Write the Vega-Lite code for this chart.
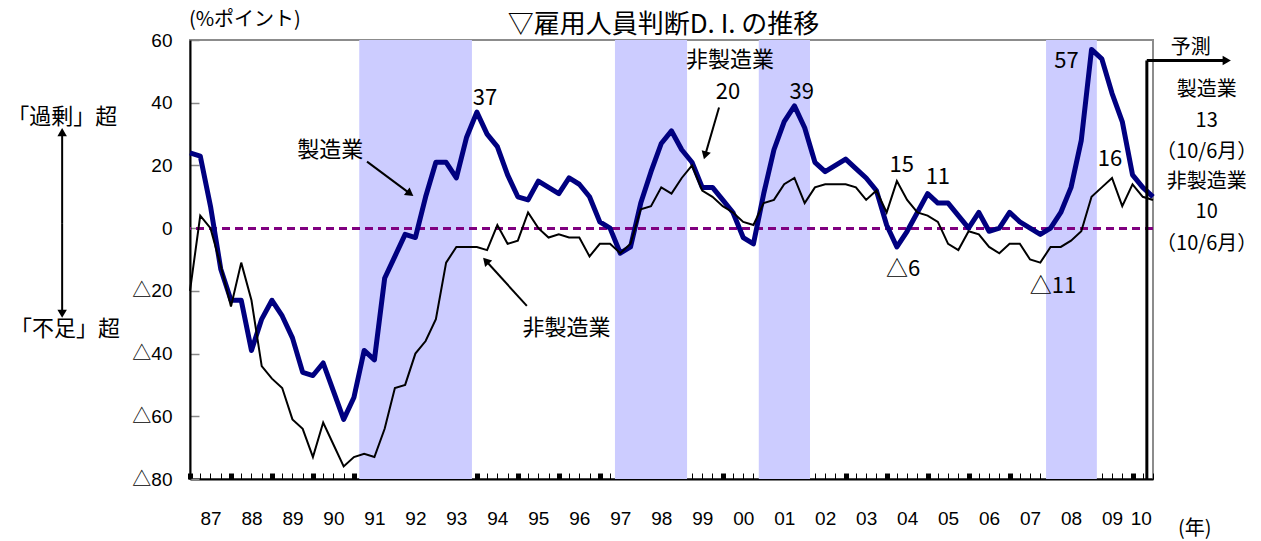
{
  "$schema": "https://vega.github.io/schema/vega-lite/v6.json",
  "width": 963,
  "height": 439,
  "autosize": {"type": "none"},
  "padding": {"left": 190, "top": 40, "right": 108, "bottom": 62},
  "background": "white",
  "config": {
    "view": {"stroke": "#8c8c8c", "strokeWidth": 2},
    "font": "Noto Sans CJK JP",
    "axis": {"labelFont": "Liberation Sans, Noto Sans CJK JP", "labelFontSize": 19, "labelColor": "black", "grid": false, "title": null}
  },
  "title": {"text": "▽雇用人員判断D. I. の推移", "font": "Noto Sans CJK JP", "fontSize": 26, "fontWeight": "normal", "color": "black", "frame": "group", "offset": 4, "dx": -8, "dy": 32},
  "datasets": {
    "di": [
      {"t": 1987, "m": 24, "n": -20}, {"t": 1987.25, "m": 23, "n": 4}, {"t": 1987.5, "m": 7, "n": 0}, {"t": 1987.75, "m": -13, "n": -12},
      {"t": 1988, "m": -23, "n": -25}, {"t": 1988.25, "m": -23, "n": -11}, {"t": 1988.5, "m": -39, "n": -23}, {"t": 1988.75, "m": -29, "n": -44},
      {"t": 1989, "m": -23, "n": -48}, {"t": 1989.25, "m": -28, "n": -51}, {"t": 1989.5, "m": -35, "n": -61}, {"t": 1989.75, "m": -46, "n": -64},
      {"t": 1990, "m": -47, "n": -73}, {"t": 1990.25, "m": -43, "n": -62}, {"t": 1990.5, "m": -52, "n": -69}, {"t": 1990.75, "m": -61, "n": -76},
      {"t": 1991, "m": -54, "n": -73}, {"t": 1991.25, "m": -39, "n": -72}, {"t": 1991.5, "m": -42, "n": -73}, {"t": 1991.75, "m": -16, "n": -64},
      {"t": 1992, "m": -9, "n": -51}, {"t": 1992.25, "m": -2, "n": -50}, {"t": 1992.5, "m": -3, "n": -40}, {"t": 1992.75, "m": 10, "n": -36},
      {"t": 1993, "m": 21, "n": -29}, {"t": 1993.25, "m": 21, "n": -11}, {"t": 1993.5, "m": 16, "n": -6}, {"t": 1993.75, "m": 29, "n": -6},
      {"t": 1994, "m": 37, "n": -6}, {"t": 1994.25, "m": 30, "n": -7}, {"t": 1994.5, "m": 26, "n": 1}, {"t": 1994.75, "m": 17, "n": -5},
      {"t": 1995, "m": 10, "n": -4}, {"t": 1995.25, "m": 9, "n": 5}, {"t": 1995.5, "m": 15, "n": 0}, {"t": 1995.75, "m": 13, "n": -3},
      {"t": 1996, "m": 11, "n": -2}, {"t": 1996.25, "m": 16, "n": -3}, {"t": 1996.5, "m": 14, "n": -3}, {"t": 1996.75, "m": 10, "n": -9},
      {"t": 1997, "m": 2, "n": -5}, {"t": 1997.25, "m": 0, "n": -5}, {"t": 1997.5, "m": -8, "n": -8}, {"t": 1997.75, "m": -6, "n": -5},
      {"t": 1998, "m": 8, "n": 6}, {"t": 1998.25, "m": 18, "n": 7}, {"t": 1998.5, "m": 27, "n": 13}, {"t": 1998.75, "m": 31, "n": 11},
      {"t": 1999, "m": 25, "n": 16}, {"t": 1999.25, "m": 21, "n": 20}, {"t": 1999.5, "m": 13, "n": 12}, {"t": 1999.75, "m": 13, "n": 10},
      {"t": 2000, "m": 9, "n": 7}, {"t": 2000.25, "m": 5, "n": 5}, {"t": 2000.5, "m": -3, "n": 2}, {"t": 2000.75, "m": -5, "n": 1},
      {"t": 2001, "m": 11, "n": 8}, {"t": 2001.25, "m": 25, "n": 9}, {"t": 2001.5, "m": 34, "n": 14}, {"t": 2001.75, "m": 39, "n": 16},
      {"t": 2002, "m": 32, "n": 8}, {"t": 2002.25, "m": 21, "n": 13}, {"t": 2002.5, "m": 18, "n": 14}, {"t": 2002.75, "m": 20, "n": 14},
      {"t": 2003, "m": 22, "n": 14}, {"t": 2003.25, "m": 19, "n": 13}, {"t": 2003.5, "m": 16, "n": 9}, {"t": 2003.75, "m": 12, "n": 12},
      {"t": 2004, "m": 1, "n": 5}, {"t": 2004.25, "m": -6, "n": 15}, {"t": 2004.5, "m": -1, "n": 9}, {"t": 2004.75, "m": 5, "n": 5},
      {"t": 2005, "m": 11, "n": 4}, {"t": 2005.25, "m": 8, "n": 2}, {"t": 2005.5, "m": 8, "n": -5}, {"t": 2005.75, "m": 4, "n": -7},
      {"t": 2006, "m": 0, "n": -1}, {"t": 2006.25, "m": 5, "n": -2}, {"t": 2006.5, "m": -1, "n": -6}, {"t": 2006.75, "m": 0, "n": -8},
      {"t": 2007, "m": 5, "n": -5}, {"t": 2007.25, "m": 2, "n": -5}, {"t": 2007.5, "m": 0, "n": -10}, {"t": 2007.75, "m": -2, "n": -11},
      {"t": 2008, "m": 0, "n": -6}, {"t": 2008.25, "m": 5, "n": -6}, {"t": 2008.5, "m": 13, "n": -4}, {"t": 2008.75, "m": 28, "n": -1},
      {"t": 2009, "m": 57, "n": 10}, {"t": 2009.25, "m": 54, "n": 13}, {"t": 2009.5, "m": 43, "n": 16}, {"t": 2009.75, "m": 34, "n": 7},
      {"t": 2010, "m": 17, "n": 14}, {"t": 2010.25, "m": 13, "n": 10}, {"t": 2010.5, "m": 10, "n": 9}
    ],
    "rec": [
      {"s": 1991.13, "e": 1993.88},
      {"s": 1997.37, "e": 1999.13},
      {"s": 2000.88, "e": 2002.13},
      {"s": 2007.89, "e": 2009.13}
    ],
    "notes": [
      {"x": 1994.2, "y": 41.4, "label": "37"},
      {"x": 2000.18, "y": 53.5, "label": "非製造業"},
      {"x": 2000.13, "y": 43.4, "label": "20"},
      {"x": 2001.93, "y": 43.4, "label": "39"},
      {"x": 1990.42, "y": 24.8, "label": "製造業"},
      {"x": 1996.19, "y": -31.7, "label": "非製造業"},
      {"x": 2004.37, "y": 20, "label": "15"},
      {"x": 2005.25, "y": 16.2, "label": "11"},
      {"x": 2004.4, "y": -13, "label": "△6"},
      {"x": 2008.06, "y": -18.4, "label": "△11"},
      {"x": 2008.39, "y": 53.3, "label": "57"},
      {"x": 2009.45, "y": 22.1, "label": "16"},
      {"x": 1983.88, "y": 35.6, "label": "「過剰」超"},
      {"x": 1983.95, "y": -32.3, "label": "「不足」超"}
    ],
    "smallnotes": [
      {"x": 1988.34, "y": 66.3, "label": "(%ポイント)"},
      {"x": 2011.52, "y": -96, "label": "(年)"},
      {"x": 2011.42, "y": 57.6, "label": "予測"},
      {"x": 2011.81, "y": 43.9, "label": "製造業"},
      {"x": 2011.81, "y": 34.3, "label": "13"},
      {"x": 2011.81, "y": 24.2, "label": "（10/6月）"},
      {"x": 2011.81, "y": 14.6, "label": "非製造業"},
      {"x": 2011.81, "y": 5.0, "label": "10"},
      {"x": 2011.81, "y": -5.0, "label": "（10/6月）"}
    ],
    "arrows": [
      {"x1": 1991.32, "y1": 21.2, "x2": 1992.37, "y2": 11},
      {"x1": 1999.91, "y1": 38.5, "x2": 1999.57, "y2": 23.2},
      {"x1": 1995.22, "y1": -24.8, "x2": 1994.22, "y2": -10.4},
      {"x1": 1983.88, "y1": 1.6, "x2": 1983.88, "y2": 30.6},
      {"x1": 1983.88, "y1": 1.6, "x2": 1983.88, "y2": -27.3},
      {"x1": 2010.35, "y1": 53.5, "x2": 2012.3, "y2": 53.5}
    ],
    "lines": [
      {"x1": 2010.35, "y1": -80, "x2": 2010.35, "y2": 53.5},
      {"x1": 2010.35, "y1": 53.5, "x2": 2012.3, "y2": 53.5}
    ]
  },
  "resolve": {"axis": {"x": "independent", "y": "independent"}},
  "layer": [
    {
      "data": {"name": "rec"},
      "mark": {"type": "rect", "color": "#ccccff"},
      "encoding": {
        "x": {"field": "s", "type": "quantitative", "scale": {"domain": [1987, 2010.5], "nice": false, "zero": false},
          "axis": {
            "orient": "bottom",
            "values": [1987,1987.25,1987.5,1987.75,1988,1988.25,1988.5,1988.75,1989,1989.25,1989.5,1989.75,1990,1990.25,1990.5,1990.75,1991,1991.25,1991.5,1991.75,1992,1992.25,1992.5,1992.75,1993,1993.25,1993.5,1993.75,1994,1994.25,1994.5,1994.75,1995,1995.25,1995.5,1995.75,1996,1996.25,1996.5,1996.75,1997,1997.25,1997.5,1997.75,1998,1998.25,1998.5,1998.75,1999,1999.25,1999.5,1999.75,2000,2000.25,2000.5,2000.75,2001,2001.25,2001.5,2001.75,2002,2002.25,2002.5,2002.75,2003,2003.25,2003.5,2003.75,2004,2004.25,2004.5,2004.75,2005,2005.25,2005.5,2005.75,2006,2006.25,2006.5,2006.75,2007,2007.25,2007.5,2007.75,2008,2008.25,2008.5,2008.75,2009,2009.25,2009.5,2009.75,2010,2010.25,2010.5],
            "labels": false, "title": null, "domain": true, "domainColor": "black", "domainWidth": 2,
            "ticks": true, "tickColor": "black", "tickSize": -6,
            "tickWidth": {"condition": {"test": "datum.value % 1 === 0", "value": 5}, "value": 1}
          }
        },
        "x2": {"field": "e"}
      }
    },
    {
      "data": {"name": "di"},
      "mark": {"type": "rule", "color": "#800080", "strokeWidth": 2, "strokeDash": [8, 5]},
      "encoding": {"y": {"datum": 0, "type": "quantitative", "axis": null}}
    },
    {
      "data": {"name": "di"},
      "mark": {"type": "line", "color": "#000080", "strokeWidth": 5, "strokeJoin": "round"},
      "encoding": {
        "x": {"field": "t", "type": "quantitative",
          "axis": {
            "orient": "bottom",
            "values": [1987.5,1988.5,1989.5,1990.5,1991.5,1992.5,1993.5,1994.5,1995.5,1996.5,1997.5,1998.5,1999.5,2000.5,2001.5,2002.5,2003.5,2004.5,2005.5,2006.5,2007.5,2008.5,2009.5,2010.2],
            "labelExpr": "slice('0' + (floor(datum.value) % 100), -2)",
            "ticks": false, "domain": false, "labelPadding": 30, "labelOverlap": false, "labelBound": false, "labelFlush": false, "title": null
          }
        },
        "y": {"field": "m", "type": "quantitative", "scale": {"domain": [-80, 60], "nice": false, "zero": false},
          "axis": {
            "orient": "left",
            "values": [-80, -60, -40, -20, 0, 20, 40, 60],
            "labelExpr": "datum.value < 0 ? '△' + (-datum.value) : '' + datum.value",
            "tickSize": -9, "tickColor": "#888888", "tickWidth": 1.5,
            "domainColor": "black", "domainWidth": 2, "labelPadding": 27, "labelFlush": false, "labelBound": false, "title": null
          }
        }
      }
    },
    {
      "data": {"name": "di"},
      "mark": {"type": "line", "color": "black", "strokeWidth": 2},
      "encoding": {
        "x": {"field": "t", "type": "quantitative", "axis": null},
        "y": {"field": "n", "type": "quantitative", "axis": null}
      }
    },
    {
      "data": {"name": "lines"},
      "mark": {"type": "rule", "color": "black", "strokeWidth": 3},
      "encoding": {
        "x": {"field": "x1", "type": "quantitative", "axis": null},
        "y": {"field": "y1", "type": "quantitative", "axis": null},
        "x2": {"field": "x2"},
        "y2": {"field": "y2"}
      }
    },
    {
      "data": {"name": "arrows"},
      "mark": {"type": "rule", "color": "black", "strokeWidth": 2},
      "encoding": {
        "x": {"field": "x1", "type": "quantitative", "axis": null},
        "y": {"field": "y1", "type": "quantitative", "axis": null},
        "x2": {"field": "x2"},
        "y2": {"field": "y2"}
      }
    },
    {
      "data": {"name": "arrows"},
      "transform": [
        {"calculate": "atan2((datum.x2 - datum.x1) * 40.98, (datum.y2 - datum.y1) * 3.136) * 180 / PI", "as": "ang"}
      ],
      "mark": {"type": "point", "shape": "triangle-up", "filled": true, "color": "black", "size": 90, "opacity": 1},
      "encoding": {
        "x": {"field": "x2", "type": "quantitative", "axis": null},
        "y": {"field": "y2", "type": "quantitative", "axis": null},
        "angle": {"field": "ang", "type": "quantitative", "scale": null}
      }
    },
    {
      "data": {"name": "notes"},
      "mark": {"type": "text", "font": "Noto Sans CJK JP", "fontSize": 22, "color": "black", "align": "center", "baseline": "middle"},
      "encoding": {
        "x": {"field": "x", "type": "quantitative", "axis": null},
        "y": {"field": "y", "type": "quantitative", "axis": null},
        "text": {"field": "label"}
      }
    },
    {
      "data": {"name": "smallnotes"},
      "mark": {"type": "text", "font": "Noto Sans CJK JP", "fontSize": 20, "color": "black", "align": "center", "baseline": "middle"},
      "encoding": {
        "x": {"field": "x", "type": "quantitative", "axis": null},
        "y": {"field": "y", "type": "quantitative", "axis": null},
        "text": {"field": "label"}
      }
    }
  ]
}
